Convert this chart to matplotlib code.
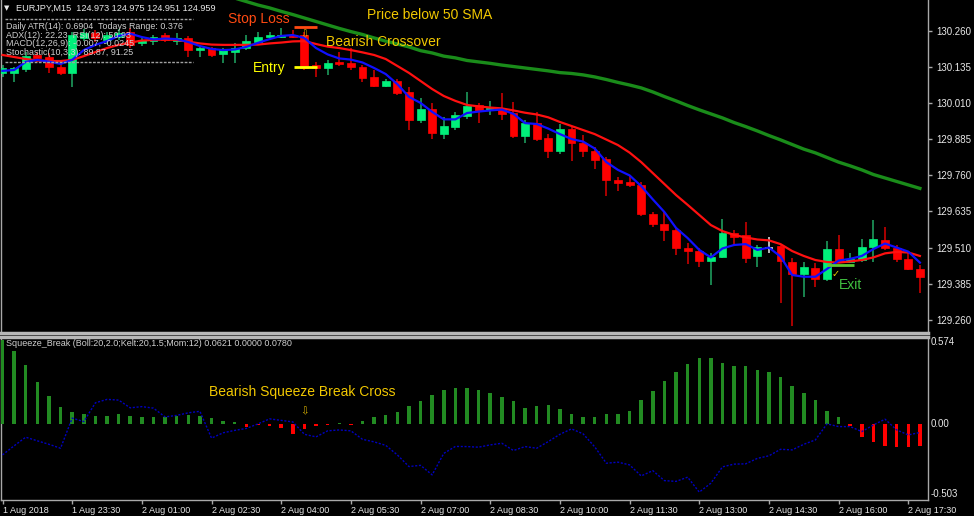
import matplotlib
matplotlib.use("Agg")
import matplotlib.pyplot as plt
import numpy as np
from matplotlib.lines import Line2D

# ---------------- data ----------------
opens = [130.115, 130.114, 130.127, 130.177, 130.171, 130.136, 130.114, 130.236, 130.253, 130.229,
         130.239, 130.257, 130.219, 130.225, 130.246, 130.226, 130.235, 130.194, 130.200, 130.179,
         130.188, 130.200, 130.223, 130.240, 130.240, 130.246, 130.246, 130.142, 130.131, 130.154,
         130.148, 130.136, 130.100, 130.071, 130.088, 130.050, 129.952, 129.989, 129.903, 129.927,
         129.966, 130.003, 129.986, 129.989, 129.975, 129.896, 129.940, 129.891, 129.845, 129.920,
         129.873, 129.846, 129.816, 129.744, 129.737, 129.727, 129.626, 129.592, 129.571, 129.510,
         129.499, 129.465, 129.479, 129.562, 129.554, 129.481, 129.510, 129.515, 129.461, 129.419,
         129.438, 129.400, 129.505, 129.461, 129.467, 129.511, 129.536, 129.508, 129.469, 129.437]
highs = [130.142, 130.136, 130.188, 130.187, 130.184, 130.149, 130.258, 130.267, 130.264, 130.257,
         130.267, 130.270, 130.239, 130.246, 130.254, 130.252, 130.243, 130.208, 130.206, 130.201,
         130.217, 130.246, 130.258, 130.258, 130.269, 130.264, 130.257, 130.153, 130.160, 130.188,
         130.200, 130.142, 130.125, 130.094, 130.094, 130.067, 130.027, 130.010, 129.961, 129.981,
         130.050, 130.010, 130.019, 130.046, 130.015, 129.952, 129.981, 129.903, 129.938, 129.928,
         129.900, 129.858, 129.824, 129.753, 129.758, 129.737, 129.633, 129.634, 129.578, 129.527,
         129.509, 129.490, 129.608, 129.571, 129.600, 129.519, 129.546, 129.522, 129.474, 129.460,
         129.458, 129.533, 129.554, 129.490, 129.539, 129.606, 129.582, 129.519, 129.492, 129.450]
lows = [130.101, 130.084, 130.119, 130.153, 130.114, 130.108, 130.067, 130.225, 130.222, 130.215,
        130.229, 130.201, 130.208, 130.212, 130.222, 130.212, 130.171, 130.171, 130.171, 130.148,
        130.149, 130.194, 130.219, 130.229, 130.236, 130.236, 130.125, 130.102, 130.108, 130.139,
        130.125, 130.084, 130.066, 130.066, 130.038, 129.917, 129.942, 129.885, 129.885, 129.917,
        129.954, 129.942, 129.969, 129.952, 129.888, 129.871, 129.879, 129.819, 129.834, 129.811,
        129.825, 129.781, 129.689, 129.707, 129.719, 129.619, 129.580, 129.534, 129.484, 129.453,
        129.444, 129.380, 129.473, 129.519, 129.456, 129.442, 129.492, 129.317, 129.238, 129.340,
        129.375, 129.394, 129.457, 129.457, 129.460, 129.461, 129.502, 129.460, 129.432, 129.352]
closes = [130.132, 130.133, 130.173, 130.167, 130.136, 130.114, 130.246, 130.253, 130.236, 130.246,
          130.253, 130.212, 130.229, 130.240, 130.229, 130.235, 130.194, 130.200, 130.177, 130.197,
          130.200, 130.226, 130.240, 130.246, 130.246, 130.240, 130.131, 130.131, 130.150, 130.145,
          130.136, 130.096, 130.071, 130.088, 130.046, 129.952, 129.989, 129.906, 129.931, 129.969,
          130.001, 129.984, 129.992, 129.973, 129.896, 129.940, 129.886, 129.845, 129.920, 129.873,
          129.845, 129.813, 129.744, 129.735, 129.726, 129.626, 129.590, 129.571, 129.508, 129.498,
          129.465, 129.479, 129.562, 129.548, 129.475, 129.513, 129.510, 129.464, 129.419, 129.442,
          129.400, 129.505, 129.461, 129.469, 129.511, 129.539, 129.508, 129.469, 129.437, 129.409]

ma_fast = [130.122, 130.125, 130.153, 130.160, 130.154, 130.146, 130.160, 130.194, 130.212, 130.225,
           130.243, 130.251, 130.239, 130.231, 130.234, 130.232, 130.222, 130.208, 130.198, 130.194,
           130.196, 130.205, 130.219, 130.232, 130.243, 130.246, 130.236, 130.201, 130.179, 130.165,
           130.161, 130.151, 130.132, 130.111, 130.076, 130.032, 130.011, 129.980, 129.954, 129.954,
           129.976, 129.981, 129.985, 129.988, 129.973, 129.941, 129.938, 129.922, 129.903, 129.886,
           129.877, 129.853, 129.806, 129.779, 129.760, 129.723, 129.677, 129.633, 129.578, 129.543,
           129.502, 129.476, 129.507, 129.519, 129.522, 129.502, 129.510, 129.479, 129.415, 129.409,
           129.409, 129.436, 129.465, 129.471, 129.481, 129.505, 129.524, 129.510, 129.496, 129.458]
ma_slow = [130.177, 130.170, 130.163, 130.158, 130.156, 130.156, 130.160, 130.173, 130.187, 130.201,
           130.212, 130.220, 130.227, 130.229, 130.231, 130.229, 130.223, 130.217, 130.213, 130.212,
           130.212, 130.212, 130.213, 130.217, 130.220, 130.224, 130.225, 130.215, 130.206, 130.201,
           130.194, 130.186, 130.177, 130.163, 130.139, 130.115, 130.087, 130.059, 130.035, 130.018,
           130.004, 129.999, 129.995, 129.992, 129.985, 129.977, 129.971, 129.961, 129.945, 129.931,
           129.917, 129.903, 129.884, 129.865, 129.839, 129.806, 129.768, 129.730, 129.692, 129.658,
           129.623, 129.588, 129.567, 129.554, 129.545, 129.538, 129.535, 129.522, 129.498, 129.481,
           129.467, 129.460, 129.458, 129.462, 129.467, 129.476, 129.490, 129.495, 129.493, 129.481]
sma50 = [np.nan] * 20 + [
    130.374, 130.362, 130.350, 130.340, 130.328, 130.317, 130.305, 130.293, 130.281, 130.269,
    130.258, 130.248, 130.236, 130.225, 130.215, 130.205, 130.192, 130.184, 130.173, 130.167,
    130.158, 130.153, 130.148, 130.142, 130.137, 130.132, 130.127, 130.122, 130.116, 130.113,
    130.108, 130.101, 130.092, 130.082, 130.073, 130.063, 130.049, 130.033, 130.018, 130.002,
    129.987, 129.973, 129.959, 129.943, 129.929, 129.914, 129.898, 129.883, 129.867, 129.851,
    129.838, 129.822, 129.806, 129.793, 129.779, 129.763, 129.751, 129.739, 129.727, 129.715]

squeeze_hist = [0.555, 0.484, 0.390, 0.275, 0.185, 0.110, 0.079, 0.066, 0.053, 0.053,
                0.066, 0.053, 0.044, 0.044, 0.044, 0.053, 0.059, 0.053, 0.037, 0.022,
                0.013, -0.022, -0.009, -0.013, -0.024, -0.068, -0.035, -0.011, -0.007, 0.004,
                -0.007, 0.022, 0.044, 0.059, 0.079, 0.119, 0.152, 0.192, 0.225, 0.236,
                0.236, 0.225, 0.207, 0.176, 0.150, 0.106, 0.117, 0.126, 0.097, 0.068,
                0.048, 0.044, 0.064, 0.068, 0.084, 0.159, 0.216, 0.284, 0.346, 0.394,
                0.432, 0.436, 0.403, 0.383, 0.383, 0.357, 0.342, 0.308, 0.251, 0.203,
                0.159, 0.086, 0.048, -0.013, -0.090, -0.123, -0.143, -0.154, -0.150, -0.145]
squeeze_line = [-0.205, -0.145, -0.088, -0.112, -0.135, -0.161, 0.038, 0.015, 0.139, 0.162,
                0.157, 0.106, 0.114, 0.104, 0.046, 0.056, 0.073, 0.083, -0.094, -0.059,
                -0.043, -0.030, 0.000, 0.033, 0.023, 0.013, -0.069, -0.086, -0.046, -0.040,
                -0.046, -0.102, -0.119, -0.142, -0.205, -0.282, -0.274, -0.337, -0.195, -0.149,
                -0.150, -0.154, -0.139, -0.128, -0.176, -0.150, -0.161, -0.117, -0.069, -0.033,
                -0.066, -0.152, -0.260, -0.253, -0.271, -0.344, -0.309, -0.375, -0.380, -0.352,
                -0.451, -0.392, -0.284, -0.266, -0.264, -0.228, -0.211, -0.168, -0.172, -0.135,
                -0.106, 0.000, -0.018, -0.018, -0.051, -0.007, 0.031, -0.040, -0.073, -0.057]

time_labels = ["1 Aug 2018", "1 Aug 23:30", "2 Aug 01:00", "2 Aug 02:30", "2 Aug 04:00",
               "2 Aug 05:30", "2 Aug 07:00", "2 Aug 08:30", "2 Aug 10:00", "2 Aug 11:30",
               "2 Aug 13:00", "2 Aug 14:30", "2 Aug 16:00", "2 Aug 17:30"]
time_label_bars = [0, 6, 12, 18, 24, 30, 36, 42, 48, 54, 60, 66, 72, 78]
price_ticks = [130.260, 130.135, 130.010, 129.885, 129.760, 129.635, 129.510, 129.385, 129.260]
price_range = (129.2142, 130.3674)
osc_range = (-0.503, 0.574)

stop_loss_level = 130.275
entry_level = 130.136
exit_level = 129.450
signal_bar = 26

# ---------------- figure ----------------
W, H = 974, 516
fig = plt.figure(figsize=(W / 100, H / 100), dpi=100, facecolor="black")
FRAME = "#a8a8a8"
TXT = "#e8e8e8"
SMALL = "Liberation Sans"

def fx(px):
    return px / W

def fy(py):
    return 1 - py / H

ax = fig.add_axes([fx(1), fy(333), fx(927), 333 / H])
ax2 = fig.add_axes([fx(1), fy(500), fx(927), 163 / H], sharex=ax)
for a in (ax, ax2):
    a.set_facecolor("black")
    for s in a.spines.values():
        s.set_color(FRAME)
        s.set_linewidth(1)
ax.spines["top"].set_visible(False)
ax.spines["bottom"].set_linewidth(2.5)
ax.spines["bottom"].set_color("#b8b8b8")
ax2.spines["top"].set_linewidth(2.5)
ax2.spines["top"].set_color("#b8b8b8")

n = len(opens)
x = np.arange(n)
o = np.array(opens); c = np.array(closes); h = np.array(highs); l = np.array(lows)
bull = c > o
bear = c < o
doji = c == o

# wicks
ax.vlines(x[bull], l[bull], h[bull], color="#1e9a5c", lw=1.2, zorder=2)
ax.vlines(x[bear], l[bear], h[bear], color="#c80000", lw=1.2, zorder=2)
ax.vlines(x[doji], l[doji], h[doji], color="#d8d8d8", lw=1.2, zorder=2)
# bodies
bw = 0.68
ax.bar(x[bull], (c - o)[bull], bottom=o[bull], width=bw, color="#00f07a", edgecolor="#00f07a", lw=0.5, zorder=3)
ax.bar(x[bear], (o - c)[bear], bottom=c[bear], width=bw, color="#ff0000", edgecolor="#ff0000", lw=0.5, zorder=3)
ax.hlines(c[doji], x[doji] - bw / 2, x[doji] + bw / 2, color="#d8d8d8", lw=1.2, zorder=3)

# moving averages
ax.plot(x, ma_slow, color="#ff1010", lw=1.6, zorder=4)
ax.plot(x, ma_fast, color="#1010ff", lw=1.6, zorder=5)
ax.plot(x, sma50, color="#1a8c1a", lw=2.4, zorder=4)

ax.set_xlim(-1.5 / 11.6, 926 / 11.6 - 1.5 / 11.6)
ax.set_ylim(*price_range)

# right price scale
ax.yaxis.tick_right()
ax.set_yticks(price_ticks)
ax.set_yticklabels([f"{v:.3f}" for v in price_ticks], fontfamily=SMALL)
ax.tick_params(axis="y", colors=FRAME, labelcolor=TXT, length=3, width=1, pad=3, labelsize=7)
ax.tick_params(axis="x", bottom=False, labelbottom=False)

# ---- annotations (main panel) ----
ax.hlines(stop_loss_level, signal_bar - 0.9, signal_bar + 1.1, color="#ff4a12", lw=2, zorder=6)
ax.hlines(entry_level, signal_bar - 0.9, signal_bar + 1.1, color="#ffff00", lw=2, zorder=6)
ax.hlines(exit_level, 71.0, 73.3, color="#5ac832", lw=2, zorder=6)
ax.text(19.4, 130.300, "Stop Loss", color="#ff4a12", fontsize=10, fontfamily=SMALL, va="center", ha="left", zorder=7)
ax.text(31.4, 130.316, "Price below 50 SMA", color="#f2c800", fontsize=10, fontfamily=SMALL, va="center", ha="left", zorder=7)
ax.text(27.9, 130.222, "Bearish Crossover", color="#f2c800", fontsize=10, fontfamily=SMALL, va="center", ha="left", zorder=7)
ax.text(21.6, 130.133, "Entry", color="#ffff00", fontsize=10, fontfamily=SMALL, va="center", ha="left", zorder=7)
ax.text(72.0, 129.382, "Exit", color="#40c040", fontsize=10, fontfamily=SMALL, va="center", ha="left", zorder=7)
ax.text(71.75, 129.420, "\u2713", color="#e8d000", fontsize=7, fontfamily="DejaVu Sans", va="center", ha="center", zorder=7)
ax.text(signal_bar, 130.249, "\u21e9", color="#d8b000", fontsize=7.5, fontfamily="DejaVu Sans", va="center", ha="center", zorder=7)

# ---- oscillator panel ----
hv = np.array(squeeze_hist)
hcol = np.where(hv >= 0, "#228b22", "#ff0000")
ax2.bar(x, hv, width=0.3, color=hcol, zorder=3)
ax2.plot(x, squeeze_line, color="#0000c0", lw=1, ls=(0, (1.5, 1.2)), zorder=4)
ax2.set_ylim(*osc_range)
ax2.set_yticks([])
ax2.set_xticks(time_label_bars)
ax2.set_xticklabels(time_labels, ha="left", fontfamily=SMALL)
ax2.tick_params(axis="x", colors=FRAME, labelcolor=TXT, length=3, width=1, pad=1.5, labelsize=6.5)
for lab in ax2.get_xticklabels():
    lab.set_horizontalalignment("left")
ax2.text(17.8, 0.211, "Bearish Squeeze Break Cross", color="#f2c800", fontsize=10, fontfamily=SMALL, va="center", ha="left", zorder=7)
ax2.text(signal_bar, 0.080, "\u21e9", color="#d8b000", fontsize=7.5, fontfamily="DejaVu Sans", va="center", ha="center", zorder=7)

# oscillator scale labels on the right
fig.text(fx(931), fy(342), f"{osc_range[1]:.3f}", color=TXT, fontsize=7, fontfamily=SMALL, va="center", ha="left")
fig.text(fx(931), fy(424), "0.00", color=TXT, fontsize=7, fontfamily=SMALL, va="center", ha="left")
fig.text(fx(931), fy(494), f"{osc_range[0]:.3f}", color=TXT, fontsize=7, fontfamily=SMALL, va="center", ha="left")

# ---- info header (top-left) ----
fig.text(fx(4), fy(8), "\u25bc", color=TXT, fontsize=5, fontfamily="DejaVu Sans", va="center", ha="left")
fig.text(fx(16), fy(8), "EURJPY,M15  124.973 124.975 124.951 124.959", color=TXT, fontsize=6.6,
         fontfamily=SMALL, va="center", ha="left")
for yy in (19, 62):
    fig.add_artist(Line2D([fx(5), fx(193)], [fy(yy), fy(yy)], color="#a0a0a0", lw=1, ls=(0, (2, 1))))
info_lines = ["Daily ATR(14): 0.6904  Todays Range: 0.376",
              "ADX(12): 22.23  RSI(12): 50.93",
              "MACD(12,26,9): -0.007, -0.0245",
              "Stochastic(10,3,3): 89.87, 91.25"]
for k, s in enumerate(info_lines):
    fig.text(fx(6), fy(26.7 + 8.6 * k), s, color="#d0d0d0", fontsize=6.4, fontfamily=SMALL, va="center", ha="left", zorder=10)

fig.text(fx(6), fy(343.5), "Squeeze_Break (Boll:20,2.0;Kelt:20,1.5;Mom:12) 0.0621 0.0000 0.0780",
         color="#d0d0d0", fontsize=6.5, fontfamily=SMALL, va="center", ha="left")

fig.savefig("out.png", dpi=100, facecolor="black")
